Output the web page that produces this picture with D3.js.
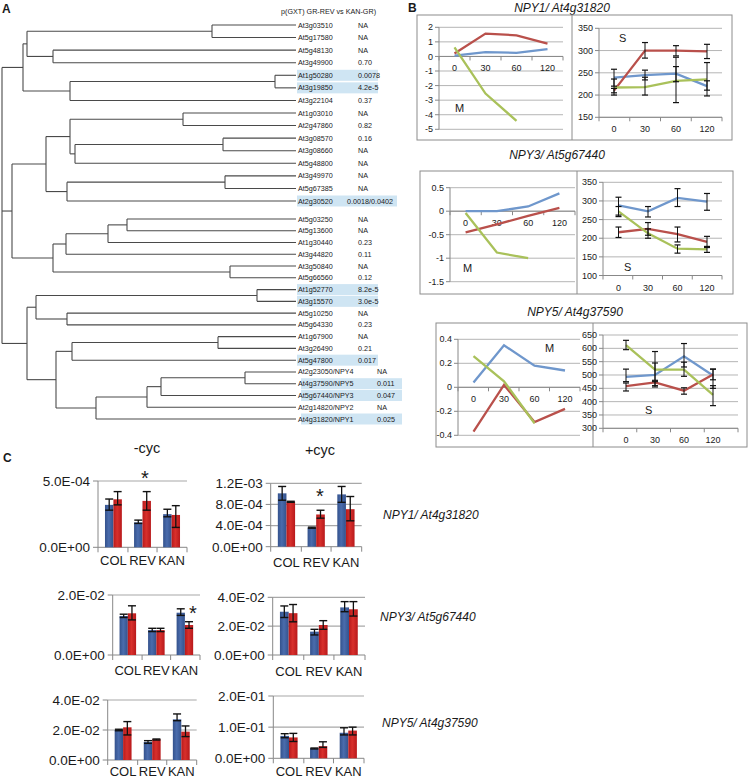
<!DOCTYPE html>
<html><head><meta charset="utf-8">
<script src="https://cdn.jsdelivr.net/npm/d3@7"></script>
<style>body{margin:0;background:#fff}svg{display:block}text{font-family:"Liberation Sans",Arial,sans-serif;fill:#1a1a1a}</style>
</head><body><svg id="c" width="750" height="781"></svg>
<script>
// ---------------- DATA ----------------
// Panel A: tree leaves and p-values
const leafNames = ["At3g03510","At5g17580","At5g48130","At3g49900","At1g50280","At3g19850","At3g22104","At1g03010","At2g47860","At3g08570","At3g08660","At5g48800","At3g49970","At5g67385","At2g30520","At5g03250","At5g13600","At1g30440","At3g44820","At3g50840","At5g66560","At1g52770","At3g15570","At5g10250","At5g64330","At1g67900","At3g26490","At5g47800","At2g23050/NPY4","At4g37590/NPY5","At5g67440/NPY3","At2g14820/NPY2","At4g31820/NPY1"];
const leafP = ["NA","NA","NA","0.70","0.0078","4.2e-5","0.37","NA","0.82","0.16","NA","NA","NA","NA","0.0018/0.0402","NA","NA","0.23","0.11","NA","0.12","8.2e-5","3.0e-5","NA","0.23","NA","0.21","0.017","NA","0.011","0.047","NA","0.025"];
const highlighted = [4,5,14,21,22,27,29,30,32];
// tree topology with branch depths (d)
const tree = {d:0,c:[
  {d:21,c:[{d:25,c:[{d:210,c:[0,1]},{d:51,c:[2,3]}]},{d:68,c:[{d:273,c:[4,5]},6]}]},
  {d:10,c:[
    {d:44,c:[{d:68,c:[{d:181,c:[7,8]},{d:73,c:[{d:221,c:[9,10]},11]}]},{d:65,c:[{d:223,c:[12,13]},14]}]},
    {d:51,c:[{d:64,c:[{d:106,c:[{d:125,c:[15,16]},17]},18]},{d:228,c:[19,20]}]}]},
  {d:25,c:[{d:34,c:[{d:255,c:[21,22]},{d:65,c:[23,24]}]},
           {d:54,c:[{d:70,c:[{d:216,c:[25,26]},27]},{d:94,c:[{d:145,c:[{d:159,c:[{d:243,c:[28,29]},30]},31]},32]}]}]}
]};

// Panel B: time course
const timePoints = ["0","30","60","120"];
const m1Blue=[0.05,0.3,0.25,0.5], m1Red=[0.2,1.57,1.45,0.88], m1Green=[0.62,-2.55,-4.42,null];
const s1Blue=[239,245,248,220], s1Red=[210,300,300,298], s1Green=[217,218,232,235];
const s1BlueErr=[[220,258],[234,256],[230,264],[198,273]], s1RedErr=[[205,215],[283,318],[288,311],[282,314]], s1GreenErr=[[200,236],[200,240],[183,285],[211,232]];
const m3Blue=[0,0,0.1,0.38], m3Red=[-0.45,-0.28,-0.1,0.07], m3Green=[-0.04,-0.88,-1.0,null];
const s3Blue=[288,272,308,298], s3Red=[216,225,211,190], s3Green=[272,213,172,170];
const s3BlueErr=[[262,310],[257,285],[285,333],[275,320]], s3RedErr=[[202,230],[208,242],[190,230],[175,205]], s3GreenErr=[[258,285],[200,225],[160,182],[162,178]];
const m5Blue=[0.04,0.35,0.18,0.14], m5Red=[-0.37,0.02,-0.29,-0.18], m5Green=[0.26,0.05,-0.3,null];
const s5Blue=[493,500,570,498], s5Red=[458,472,441,502], s5Green=[612,520,520,425];
const s5BlueErr=[[475,522],[460,588],[530,618],[450,522]], s5RedErr=[[440,470],[455,475],[428,452],[482,522]], s5GreenErr=[[595,630],[480,545],[495,548],[385,460]];
const ticksM1=[-5,-4,-3,-2,-1,0,1,2], ticksS1=[150,200,250,300,350];
const ticksM3=[-1.5,-1,-0.5,0,0.5], ticksS3=[100,150,200,250,300,350];
const ticksM5=[-0.4,-0.2,0,0.2,0.4], ticksS5=[300,350,400,450,500,550,600,650];

// Panel C: qPCR bars
const genotypes = ["COL","REV","KAN"];
const c1Blue=[3.2e-4,1.88e-4,2.5e-4], c1Red=[3.62e-4,3.5e-4,2.44e-4];
const c1BlueErr=[[2.8e-4,3.64e-4],[1.8e-4,2.05e-4],[2.3e-4,2.87e-4]], c1RedErr=[[3.2e-4,4.2e-4],[2.8e-4,4.2e-4],[1.5e-4,3.14e-4]];
const c2Blue=[1.01e-3,3.6e-4,9.9e-4], c2Red=[8.5e-4,6.1e-4,7.1e-4];
const c2BlueErr=[[8.8e-4,1.14e-3],[3.5e-4,3.7e-4],[8.4e-4,1.14e-3]], c2RedErr=[[8.4e-4,8.6e-4],[5.4e-4,6.9e-4],[4.9e-4,9.5e-4]];
const c3Blue=[1.3e-2,0.83e-2,1.41e-2], c3Red=[1.39e-2,0.83e-2,1.0e-2];
const c3BlueErr=[[1.25e-2,1.36e-2],[0.78e-2,0.89e-2],[1.32e-2,1.54e-2]], c3RedErr=[[1.17e-2,1.64e-2],[0.78e-2,0.89e-2],[0.89e-2,1.11e-2]];
const c4Blue=[3.0e-2,1.62e-2,3.3e-2], c4Red=[2.9e-2,2.08e-2,3.17e-2];
const c4BlueErr=[[2.6e-2,3.4e-2],[1.39e-2,1.78e-2],[3.0e-2,3.7e-2]], c4RedErr=[[2.3e-2,3.5e-2],[1.78e-2,2.38e-2],[2.7e-2,3.7e-2]];
const c5Blue=[2.0e-2,1.2e-2,2.71e-2], c5Red=[2.18e-2,1.38e-2,1.89e-2];
const c5BlueErr=[[1.95e-2,2.05e-2],[1.11e-2,1.29e-2],[2.62e-2,3.07e-2]], c5RedErr=[[1.67e-2,2.56e-2],[1.33e-2,1.4e-2],[1.56e-2,2.27e-2]];
const c6Blue=[0.072,0.032,0.082], c6Red=[0.067,0.039,0.089];
const c6BlueErr=[[0.066,0.079],[0.03,0.033],[0.075,0.098]], c6RedErr=[[0.054,0.08],[0.035,0.053],[0.075,0.1]];
const ticksC1=[0,5e-4], ticksC2=[0,4e-4,8e-4,1.2e-3], ticksC3=[0,2e-2], ticksC4=[0,2e-2,4e-2], ticksC5=[0,2e-2,4e-2], ticksC6=[0,1e-1,2e-1];
const sciFmt = v => { if (v===0) return "0.0E+00"; const e=Math.floor(Math.log10(v)+1e-9); const m=v/Math.pow(10,e); return m.toFixed(1)+"E"+(e<0?"-":"+")+String(Math.abs(e)).padStart(2,"0"); };

// ---------------- DRAW ----------------
const svg = d3.select("#c");
svg.append("rect").attr("width",750).attr("height",781).attr("fill","#fff");

// ===== Panel A =====
const gA = svg.append("g");
gA.append("text").attr("x",2).attr("y",13).attr("font-size",12).attr("font-weight","bold").text("A");
gA.append("text").attr("x",281).attr("y",14).attr("font-size",7.2).text("p(GXT) GR-REV vs KAN-GR)");
const leafY = d3.scaleLinear().domain([0,14,15,32]).range([25,201,219,419]);
const depthX = d3.scaleLinear().domain([0,294]).range([2,296]);
const isNPY = i => leafNames[i].includes("NPY");
highlighted.forEach(i => {
  let x0 = 297, x1 = 378;
  if (i === 14) x1 = 397;
  if (isNPY(i)) { x0 = 301; x1 = 402; }
  gA.append("rect").attr("x",x0).attr("y",leafY(i)-5.5).attr("width",x1-x0).attr("height",11).attr("fill","#cfe5f3");
});
const treeG = gA.append("g").attr("stroke","#4a4a4a").attr("stroke-width",1.1).attr("fill","none");
function seg(x1,y1,x2,y2){ treeG.append("line").attr("x1",x1).attr("y1",y1).attr("x2",x2).attr("y2",y2); }
function drawNode(n){
  if (typeof n === "number") return {x: depthX(294), y: leafY(n)};
  const kids = n.c.map(drawNode);
  const x = depthX(n.d);
  kids.forEach(k => seg(x,k.y,k.x,k.y));
  const ys = kids.map(k=>k.y);
  seg(x,d3.min(ys),x,d3.max(ys));
  return {x, y:(d3.min(ys)+d3.max(ys))/2};
}
drawNode(tree);
leafNames.forEach((nm,i) => {
  gA.append("text").attr("x", 298).attr("y", leafY(i)).attr("dy","0.35em").attr("font-size",7.2).text(nm);
  const vx = isNPY(i) ? 377 : (i===14 ? 347 : 358);
  gA.append("text").attr("x", vx).attr("y", leafY(i)).attr("dy","0.35em").attr("font-size",7.2).text(leafP[i]);
});

// ===== Panel B =====
const gB = svg.append("g");
gB.append("text").attr("x",408).attr("y",12).attr("font-size",12).attr("font-weight","bold").text("B");
const colBlue="#6f97cc", colRed="#b9504b", colGreen="#a9c15a";
function linePlot(cfg){
  const g = gB.append("g");
  const y = d3.scaleLinear().domain(cfg.yDom).range(cfg.yRange);
  const x = d3.scalePoint().domain(timePoints).range(cfg.px);
  const [gx0,gx1] = cfg.gx;
  cfg.ticks.forEach(t => {
    g.append("line").attr("x1",gx0).attr("x2",gx1).attr("y1",y(t)).attr("y2",y(t)).attr("stroke","#b5b5b5").attr("stroke-width",1);
    g.append("line").attr("x1",gx0-4).attr("x2",gx0).attr("y1",y(t)).attr("y2",y(t)).attr("stroke","#888");
    g.append("text").attr("x",gx0-6).attr("y",y(t)).attr("dy","0.35em").attr("text-anchor","end").attr("font-size",9).text(String(t));
  });
  g.append("line").attr("x1",gx0).attr("x2",gx0).attr("y1",cfg.yRange[0]).attr("y2",cfg.yRange[1]).attr("stroke","#888");
  const ay = y(cfg.axisAt);
  g.append("line").attr("x1",gx0).attr("x2",gx1).attr("y1",ay).attr("y2",ay).attr("stroke","#888");
  const step = (gx1-gx0)/timePoints.length;
  d3.range(timePoints.length+1).forEach(i => g.append("line").attr("x1",gx0+i*step).attr("x2",gx0+i*step).attr("y1",ay).attr("y2",ay+4).attr("stroke","#888"));
  timePoints.forEach(tp => g.append("text").attr("x",x(tp)).attr("y",ay+15).attr("text-anchor","middle").attr("font-size",9).text(tp));
  const line = d3.line().defined(d => d[1]!=null).x(d => x(d[0])).y(d => y(d[1]));
  cfg.series.forEach(s => {
    g.append("path").attr("d", line(timePoints.map((tp,i)=>[tp,s.vals[i]]))).attr("fill","none").attr("stroke",s.color).attr("stroke-width",2.3);
  });
  cfg.series.forEach(s => {
    if (!s.err) return;
    s.err.forEach((e,i) => {
      const cx = x(timePoints[i]);
      g.append("line").attr("x1",cx).attr("x2",cx).attr("y1",y(e[0])).attr("y2",y(e[1])).attr("stroke","#111").attr("stroke-width",1);
      [e[0],e[1]].forEach(v => g.append("line").attr("x1",cx-3).attr("x2",cx+3).attr("y1",y(v)).attr("y2",y(v)).attr("stroke","#111").attr("stroke-width",1.2));
    });
  });
  g.append("text").attr("x",cfg.label[1]).attr("y",cfg.label[2]).attr("font-size",11).text(cfg.label[0]);
}
function frame(x0,y0,x1,y1,xd){
  gB.append("rect").attr("x",x0).attr("y",y0).attr("width",x1-x0).attr("height",y1-y0).attr("fill","none").attr("stroke","#8c8c8c");
  gB.append("line").attr("x1",xd).attr("x2",xd).attr("y1",y0).attr("y2",y1).attr("stroke","#8c8c8c");
}
// NPY1
gB.append("text").attr("x",562).attr("y",12).attr("text-anchor","middle").attr("font-size",12).attr("font-style","italic").text("NPY1/ At4g31820");
frame(417,15,732,140,572);
linePlot({gx:[439,563],px:[454.5,547.5],yDom:[-5,2],yRange:[129.3,27.3],ticks:ticksM1,axisAt:0,
  series:[{vals:m1Blue,color:colBlue},{vals:m1Red,color:colRed},{vals:m1Green,color:colGreen}],label:["M",455,112]});
linePlot({gx:[599,722],px:[614,707],yDom:[150,350],yRange:[117.3,28.3],ticks:ticksS1,axisAt:150,
  series:[{vals:s1Blue,color:colBlue,err:s1BlueErr},{vals:s1Red,color:colRed,err:s1RedErr},{vals:s1Green,color:colGreen,err:s1GreenErr}],label:["S",619,42]});
// NPY3
gB.append("text").attr("x",557).attr("y",159).attr("text-anchor","middle").attr("font-size",12).attr("font-style","italic").text("NPY3/ At5g67440");
frame(420,171,733,294,577);
linePlot({gx:[450,575],px:[465.6,559.4],yDom:[-1.5,0.5],yRange:[281.7,187.7],ticks:ticksM3,axisAt:0,
  series:[{vals:m3Blue,color:colBlue},{vals:m3Red,color:colRed},{vals:m3Green,color:colGreen}],label:["M",463,272]});
linePlot({gx:[603,722],px:[618.5,707],yDom:[100,350],yRange:[275.5,182.3],ticks:ticksS3,axisAt:100,
  series:[{vals:s3Blue,color:colBlue,err:s3BlueErr},{vals:s3Red,color:colRed,err:s3RedErr},{vals:s3Green,color:colGreen,err:s3GreenErr}],label:["S",624,271]});
// NPY5
gB.append("text").attr("x",575).attr("y",316).attr("text-anchor","middle").attr("font-size",12).attr("font-style","italic").text("NPY5/ At4g37590");
frame(436,323,747,447,593);
linePlot({gx:[458,580],px:[473.5,565],yDom:[-0.4,0.4],yRange:[435.3,339.3],ticks:ticksM5,axisAt:0,
  series:[{vals:m5Blue,color:colBlue},{vals:m5Red,color:colRed},{vals:m5Green,color:colGreen}],label:["M",545,352]});
linePlot({gx:[603,738],px:[626,713],yDom:[300,650],yRange:[428.3,335],ticks:ticksS5,axisAt:300,
  series:[{vals:s5Blue,color:colBlue,err:s5BlueErr},{vals:s5Red,color:colRed,err:s5RedErr},{vals:s5Green,color:colGreen,err:s5GreenErr}],label:["S",645,414]});

// ===== Panel C =====
const gC = svg.append("g");
const defs = svg.append("defs");
function grad(id,c1,c2){
  const lg = defs.append("linearGradient").attr("id",id).attr("x1","0").attr("x2","1").attr("y1","0").attr("y2","0");
  lg.append("stop").attr("offset","0").attr("stop-color",c1);
  lg.append("stop").attr("offset","0.45").attr("stop-color",c2);
  lg.append("stop").attr("offset","1").attr("stop-color",c1);
}
grad("gBlue","#34528c","#4a6cad");
grad("gRed","#b8191b","#d8302c");
gC.append("text").attr("x",3).attr("y",462).attr("font-size",12).attr("font-weight","bold").text("C");
gC.append("text").attr("x",147).attr("y",453).attr("text-anchor","middle").attr("font-size",14.5).attr("font-family","DejaVu Sans").text("-cyc");
gC.append("text").attr("x",320).attr("y",455).attr("text-anchor","middle").attr("font-size",14.5).attr("font-family","DejaVu Sans").text("+cyc");
function barPlot(cfg){
  const g = gC.append("g");
  const y = d3.scaleLinear().domain([0, d3.max(cfg.ticks)]).range(cfg.yRange);
  const x = d3.scaleBand().domain(genotypes).range([cfg.ax, cfg.right]).paddingInner(0.42).paddingOuter(0.24);
  const bw = x.bandwidth()/2;
  cfg.ticks.forEach(t => {
    if (t>0) g.append("line").attr("x1",cfg.ax).attr("x2",cfg.right).attr("y1",y(t)).attr("y2",y(t)).attr("stroke","#a8a8a8").attr("stroke-width",1.2);
    g.append("line").attr("x1",cfg.ax-5).attr("x2",cfg.ax).attr("y1",y(t)).attr("y2",y(t)).attr("stroke","#888");
    g.append("text").attr("x",cfg.ax-8).attr("y",y(t)).attr("dy","0.36em").attr("text-anchor","end").attr("font-size",13.5).attr("font-family","DejaVu Sans").text(sciFmt(t));
  });
  g.append("line").attr("x1",cfg.ax).attr("x2",cfg.ax).attr("y1",cfg.yRange[0]).attr("y2",cfg.yRange[1]).attr("stroke","#888");
  g.append("line").attr("x1",cfg.ax).attr("x2",cfg.right).attr("y1",y(0)).attr("y2",y(0)).attr("stroke","#888");
  const step = x.step();
  [cfg.ax, x("REV")-step*0.21, x("KAN")-step*0.21, cfg.right].forEach(v => g.append("line").attr("x1",v).attr("x2",v).attr("y1",y(0)).attr("y2",y(0)+5).attr("stroke","#888"));
  genotypes.forEach((gt,i) => {
    const bxB = x(gt), bxR = x(gt)+bw;
    g.append("rect").attr("x",bxB).attr("y",y(cfg.blue[i])).attr("width",bw).attr("height",y(0)-y(cfg.blue[i])).attr("fill","url(#gBlue)");
    g.append("rect").attr("x",bxR).attr("y",y(cfg.red[i])).attr("width",bw).attr("height",y(0)-y(cfg.red[i])).attr("fill","url(#gRed)");
    [[bxB+bw/2,cfg.blueErr[i]],[bxR+bw/2,cfg.redErr[i]]].forEach(([cx,e]) => {
      g.append("line").attr("x1",cx).attr("x2",cx).attr("y1",y(e[0])).attr("y2",y(e[1])).attr("stroke","#111").attr("stroke-width",1.3);
      e.forEach(v => g.append("line").attr("x1",cx-4).attr("x2",cx+4).attr("y1",y(v)).attr("y2",y(v)).attr("stroke","#111").attr("stroke-width",1.4));
    });
    g.append("text").attr("x",x(gt)+x.bandwidth()/2).attr("y",cfg.xLabY).attr("text-anchor","middle").attr("font-size",13).attr("font-family","DejaVu Sans").text(gt);
  });
  if (cfg.star) g.append("text").attr("x",cfg.star[0]).attr("y",cfg.star[1]).attr("text-anchor","middle").attr("font-size",20).text("*");
  if (cfg.gene) g.append("text").attr("x",cfg.gene[1]).attr("y",cfg.gene[2]).attr("font-size",12).attr("font-style","italic").text(cfg.gene[0]);
}
barPlot({ax:98,right:187,yRange:[547.3,481],ticks:ticksC1,blue:c1Blue,red:c1Red,blueErr:c1BlueErr,redErr:c1RedErr,xLabY:565,star:[145,485]});
barPlot({ax:270.7,right:361.7,yRange:[546.7,483.3],ticks:ticksC2,blue:c2Blue,red:c2Red,blueErr:c2BlueErr,redErr:c2RedErr,xLabY:567,star:[320,503],gene:["NPY1/ At4g31820",383,519]});
barPlot({ax:112.7,right:200,yRange:[655,595],ticks:ticksC3,blue:c3Blue,red:c3Red,blueErr:c3BlueErr,redErr:c3RedErr,xLabY:675,star:[193,620]});
barPlot({ax:272.7,right:365,yRange:[655,597.3],ticks:ticksC4,blue:c4Blue,red:c4Red,blueErr:c4BlueErr,redErr:c4RedErr,xLabY:676,gene:["NPY3/ At5g67440",380,621]});
barPlot({ax:107.7,right:196.7,yRange:[760,700],ticks:ticksC5,blue:c5Blue,red:c5Red,blueErr:c5BlueErr,redErr:c5RedErr,xLabY:776});
barPlot({ax:273.3,right:364,yRange:[758.3,696],ticks:ticksC6,blue:c6Blue,red:c6Red,blueErr:c6BlueErr,redErr:c6RedErr,xLabY:776,gene:["NPY5/ At4g37590",382,727]});
</script></body></html>
